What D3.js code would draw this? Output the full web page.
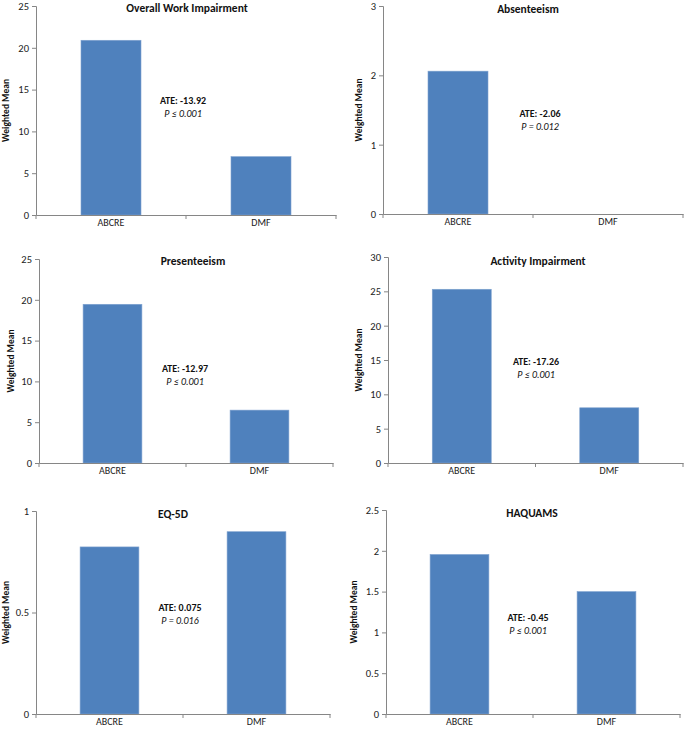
<!DOCTYPE html>
<html><head><meta charset="utf-8">
<script src="https://cdn.jsdelivr.net/npm/d3@7"></script>
<style>
body{margin:0;background:#fff;}
text{font-family:Carlito,Lato,"Liberation Sans",sans-serif;}
</style></head>
<body><svg id="c" width="685" height="729"></svg>
<script>
// ---- data ----
const categories = ["ABCRE", "DMF"];
const titles = ["Overall Work Impairment", "Absenteeism", "Presenteeism", "Activity Impairment", "EQ-5D", "HAQUAMS"];
const overallWork = [20.9, 6.98];
const absenteeism = [2.06, 0];
const presenteeism = [19.45, 6.48];
const activity = [25.3, 8.04];
const eq5d = [0.823, 0.898];
const haquams = [1.955, 1.50];
const yMaxes = [25, 3, 25, 30, 1, 2.5];
const yTickValues = [
  [0, 5, 10, 15, 20, 25],
  [0, 1, 2, 3],
  [0, 5, 10, 15, 20, 25],
  [0, 5, 10, 15, 20, 25, 30],
  [0, 0.5, 1],
  [0, 0.5, 1, 1.5, 2, 2.5]
];
const ateLabels = ["ATE: -13.92", "ATE: -2.06", "ATE: -12.97", "ATE: -17.26", "ATE: 0.075", "ATE: -0.45"];
const pLabels = ["P \u2264 0.001", "P = 0.012", "P \u2264 0.001", "P \u2264 0.001", "P = 0.016", "P \u2264 0.001"];
const yLabel = "Weighted Mean";
const seriesList = [overallWork, absenteeism, presenteeism, activity, eq5d, haquams];

// ---- layout ----
const layout = [
  {x0: 36, x1: 336, yT: 6, yB: 215, tx: 187, ty: 12, ax: 183, ay: 104, lx: 9},
  {x0: 383, x1: 683, yT: 6, yB: 214, tx: 528, ty: 13, ax: 540, ay: 117, lx: 362},
  {x0: 39, x1: 333, yT: 259, yB: 463, tx: 193, ty: 265, ax: 185, ay: 372, lx: 14},
  {x0: 388, x1: 683, yT: 257, yB: 463, tx: 538, ty: 265, ax: 536, ay: 365, lx: 362},
  {x0: 36, x1: 330, yT: 511, yB: 714, tx: 173, ty: 518, ax: 180, ay: 611, lx: 9},
  {x0: 386, x1: 680, yT: 510, yB: 714, tx: 532, ty: 517, ax: 528, ay: 621, lx: 357}
];

const svg = d3.select("#c");
const axisColor = "#868686";
const barColor = "#4f81bd";

seriesList.forEach((vals, i) => {
  const L = layout[i];
  const g = svg.append("g");
  const x = d3.scaleBand().domain(categories).range([L.x0, L.x1]).paddingInner(0.6).paddingOuter(0.3);
  const y = d3.scaleLinear().domain([0, yMaxes[i]]).range([L.yB, L.yT]);

  // bars
  g.selectAll("rect.bar").data(categories).enter().append("rect")
    .attr("class", "bar")
    .attr("x", d => x(d))
    .attr("width", x.bandwidth())
    .attr("y", (d, k) => y(vals[k]))
    .attr("height", (d, k) => L.yB - y(vals[k]))
    .attr("fill", barColor)
    .attr("stroke", "#7fa2cf").attr("stroke-width", 0.6);

  // y axis
  const ya = g.append("g").attr("transform", `translate(${L.x0},0)`)
    .call(d3.axisLeft(y).tickValues(yTickValues[i]).tickSize(4).tickPadding(3).tickFormat(d3.format("~g")));
  ya.select(".domain").attr("stroke", axisColor);
  ya.selectAll(".tick line").attr("stroke", axisColor);
  ya.selectAll(".tick text").attr("font-size", 10.5).attr("fill", "#222")
    .style("font-family", "Carlito,Lato,'Liberation Sans',sans-serif");

  // x axis
  const xa = g.append("g").attr("transform", `translate(0,${L.yB})`)
    .call(d3.axisBottom(x).tickSize(0).tickPadding(4));
  xa.select(".domain").attr("stroke", axisColor);
  xa.selectAll(".tick text").attr("font-size", 10).attr("fill", "#222")
    .style("font-family", "Carlito,Lato,'Liberation Sans',sans-serif");
  // boundary tick marks
  const bounds = [L.x0, (L.x0 + L.x1) / 2, L.x1];
  g.selectAll("line.bt").data(bounds).enter().append("line")
    .attr("x1", d => d).attr("x2", d => d)
    .attr("y1", L.yB).attr("y2", L.yB + 4)
    .attr("stroke", axisColor);

  // title
  g.append("text").attr("x", L.tx).attr("y", L.ty).attr("text-anchor", "middle")
    .attr("font-size", 11.5).attr("font-weight", "bold").attr("fill", "#111").text(titles[i]);

  // y label
  g.append("text").attr("transform", `translate(${L.lx},${(L.yT + L.yB) / 2}) rotate(-90)`)
    .attr("text-anchor", "middle").attr("font-size", 9.5).attr("font-weight", "bold").attr("fill", "#111")
    .text(yLabel);

  // annotation
  g.append("text").attr("x", L.ax).attr("y", L.ay).attr("text-anchor", "middle")
    .attr("font-size", 10).attr("font-weight", "bold").attr("fill", "#111").text(ateLabels[i]);
  g.append("text").attr("x", L.ax).attr("y", L.ay + 13).attr("text-anchor", "middle")
    .attr("font-size", 10).attr("font-style", "italic").attr("fill", "#111").text(pLabels[i]);
});
</script></body></html>
